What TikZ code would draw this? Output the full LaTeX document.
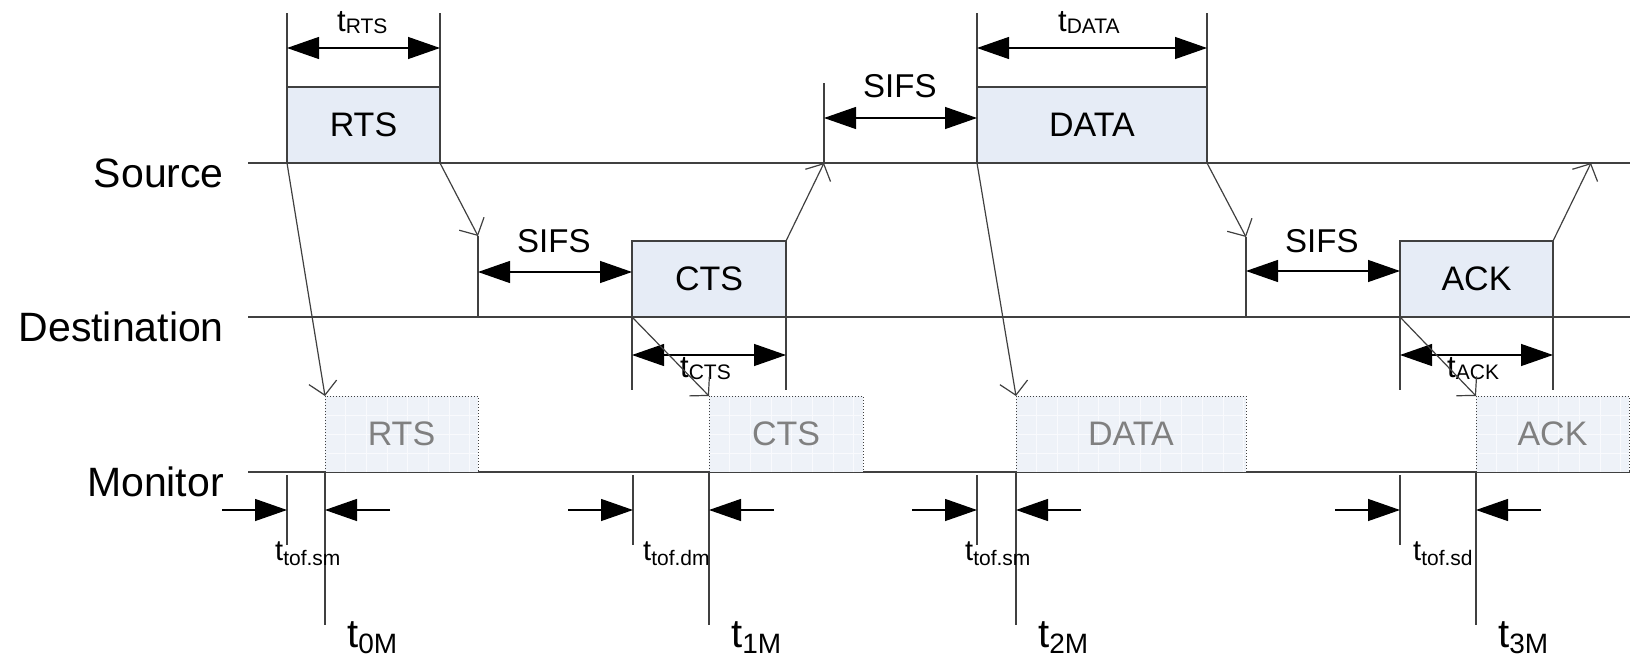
\documentclass[tikz,border=0pt]{standalone}
\usepackage{fontspec}
\setmainfont{Liberation Sans}
\usepackage{xcolor}
\usepackage{tikz}
\usetikzlibrary{arrows.meta}
\definecolor{ink}{HTML}{404040}
\definecolor{boxfill}{HTML}{E6ECF6}
\definecolor{ghostfill}{HTML}{EEF2F8}
\definecolor{ghostgrid}{HTML}{F9FAFD}
\definecolor{ghosttext}{HTML}{808080}
\newcommand{\tspan}[1]{t\raisebox{-2pt}{\fontsize{21}{24}\selectfont #1}}
\newcommand{\ttof}[1]{t\raisebox{-5pt}{\fontsize{21}{24}\selectfont tof.#1}}
\newcommand{\tmark}[1]{t\raisebox{-6pt}{\fontsize{28}{32}\selectfont #1M}}
\tikzset{
  lane/.style={draw=ink, line width=1.3pt},
  lanename/.style={anchor=base east, inner sep=0pt, font=\fontsize{41}{48}\selectfont},
  frame/.style={draw=ink, line width=1.3pt, fill=boxfill, anchor=south west,
    inner sep=0pt, outer sep=0pt, minimum height=76pt, font=\fontsize{34}{40}\selectfont},
  ghost/.style={fill=ghostfill, anchor=south west, inner sep=0pt, outer sep=0pt,
    minimum height=76pt},
  ghostlabel/.style={text=ghosttext, font=\fontsize{34}{40}\selectfont},
  ghostedge/.style={draw=ink, line width=1pt, dotted},
  gridline/.style={draw=ghostgrid, line width=1pt},
  guide/.style={draw=ink, line width=1.3pt},
  span/.style={draw=black, line width=1.3pt,
    {Triangle[length=32pt,width=22pt]}-{Triangle[length=32pt,width=22pt]}},
  pointer/.style={draw=black, line width=1.3pt, -{Triangle[length=32pt,width=22pt]}},
  hop/.style={draw=ink, line width=1.2pt, -{Straight Barb[length=13pt,width=28pt]}},
  gaplabel/.style={anchor=base west, inner sep=0pt, font=\fontsize{33}{38}\selectfont},
  spanlabel/.style={anchor=base west, inner sep=0pt, font=\fontsize{31}{36}\selectfont},
  toflabel/.style={anchor=base west, inner sep=0pt, font=\fontsize{29}{34}\selectfont},
  marklabel/.style={anchor=base west, inner sep=0pt, font=\fontsize{40}{46}\selectfont}
}

\begin{document}
\begin{tikzpicture}[x=1pt,y=-1pt]
  \useasboundingbox (0,0) rectangle (1630,658);

  % lanes
  \draw[lane] (248,163) -- (1630,163);
  \draw[lane] (248,317) -- (1630,317);
  \draw[lane] (248,472) -- (1630,472);
  \node[lanename] (src) at (224,187) {Source};
  \node[lanename] (dst) at (224,341) {Destination};
  \node[lanename] (mon) at (224,496) {Monitor};

  % frames sent by source and destination
  \node[frame, minimum width=153pt] (rts) at (287,163) {RTS};
  \node[frame, minimum width=230pt] (data) at (977,163) {DATA};
  \node[frame, minimum width=154pt] (cts) at (632,317) {CTS};
  \node[frame, minimum width=153pt] (ack) at (1400,317) {ACK};

  % frames overheard by the monitor
  \node[ghost, minimum width=153pt] (mrts) at (325,472) {};
  \node[ghost, minimum width=154pt] (mcts) at (709,472) {};
  \node[ghost, minimum width=230pt] (mdata) at (1016,472) {};
  \node[ghost, minimum width=153pt] (mack) at (1476,472) {};
  \foreach \mb/\txt in {mrts/RTS, mcts/CTS, mdata/DATA, mack/ACK}{
    \begin{scope}
      \clip (\mb.south west) rectangle (\mb.north east);
      \foreach \k in {1,...,11}
        \draw[gridline] ([xshift=\k*20.7pt]\mb.south west) -- ([xshift=\k*20.7pt]\mb.north west);
      \foreach \k in {1,2,3}
        \draw[gridline] ([yshift=\k*19pt]\mb.south west) -- ([yshift=\k*19pt]\mb.south east);
    \end{scope}
    \draw[ghostedge] (\mb.south west) |- (\mb.north east) -- (\mb.south east);
    \node[ghostlabel] at (\mb.center) {\txt};
  }

  % arrival points
  \coordinate (rtsin) at (478,236);
  \coordinate (ctsin) at (824,163);
  \coordinate (datain) at (1246,237);
  \coordinate (ackin) at (1591,163);

  % durations of RTS and DATA
  \draw[guide] (rts.north west) -- +(0,-74);
  \draw[guide] (rts.north east) -- +(0,-74);
  \draw[span] ([yshift=39pt]rts.north west) -- ([yshift=39pt]rts.north east);
  \node[spanlabel] (trts) at (337,32) {\tspan{RTS}};
  \draw[guide] (data.north west) -- +(0,-74);
  \draw[guide] (data.north east) -- +(0,-74);
  \draw[span] ([yshift=39pt]data.north west) -- ([yshift=39pt]data.north east);
  \node[spanlabel] (tdata) at (1058,32) {\tspan{DATA}};

  % SIFS gaps
  \draw[guide] (ctsin) -- +(0,-80);
  \draw[span] ([yshift=45pt]ctsin) -- (data.west |- 0,118);
  \node[gaplabel] (sifsa) at (863,98) {SIFS};
  \draw[guide] (rtsin) -- (rtsin |- 0,317);
  \draw[span] (rtsin |- 0,272) -- (cts.west |- 0,272);
  \node[gaplabel] (sifsb) at (517,252) {SIFS};
  \draw[guide] (datain) -- (datain |- 0,317);
  \draw[span] (datain |- 0,271) -- (ack.west |- 0,271);
  \node[gaplabel] (sifsc) at (1285,252) {SIFS};

  % durations of CTS and ACK
  \draw[guide] (cts.south west) -- +(0,73);
  \draw[guide] (cts.south east) -- +(0,73);
  \draw[span] ([yshift=-38pt]cts.south west) -- ([yshift=-38pt]cts.south east);
  \node[spanlabel] (tcts) at (680,377) {\tspan{CTS}};
  \draw[guide] (ack.south west) -- +(0,73);
  \draw[guide] (ack.south east) -- +(0,73);
  \draw[span] ([yshift=-38pt]ack.south west) -- ([yshift=-38pt]ack.south east);
  \node[spanlabel] (tack) at (1447,377) {\tspan{ACK}};

  % propagation
  \draw[hop] (rts.south west) -- (mrts.north west);
  \draw[hop] (rts.south east) -- (rtsin);
  \draw[hop] (cts.south west) -- (mcts.north west);
  \draw[hop] (cts.north east) -- (ctsin);
  \draw[hop] (data.south west) -- (mdata.north west);
  \draw[hop] (data.south east) -- (datain);
  \draw[hop] (ack.south west) -- (mack.north west);
  \draw[hop] (ack.north east) -- (ackin);

  % time of flight to the monitor
  \foreach \ev/\mb/\lx/\st/\k in {287/mrts/275/sm/0, 633/mcts/643/dm/1,
                                  977/mdata/965/sm/2, 1400/mack/1413/sd/3}{
    \draw[guide] (\ev,475) -- (\ev,545);
    \draw[guide] (\mb.south west) -- +(0,153);
    \draw[pointer] (\ev-65,510) -- (\ev,510);
    \draw[pointer] ([shift={(65,38)}]\mb.south west) -- ([shift={(0,38)}]\mb.south west);
    \node[toflabel] at (\lx,560) {\ttof{\st}};
    \node[marklabel] at ([shift={(22,175)}]\mb.south west) {\tmark{\k}};
  }
\end{tikzpicture}
\end{document}
